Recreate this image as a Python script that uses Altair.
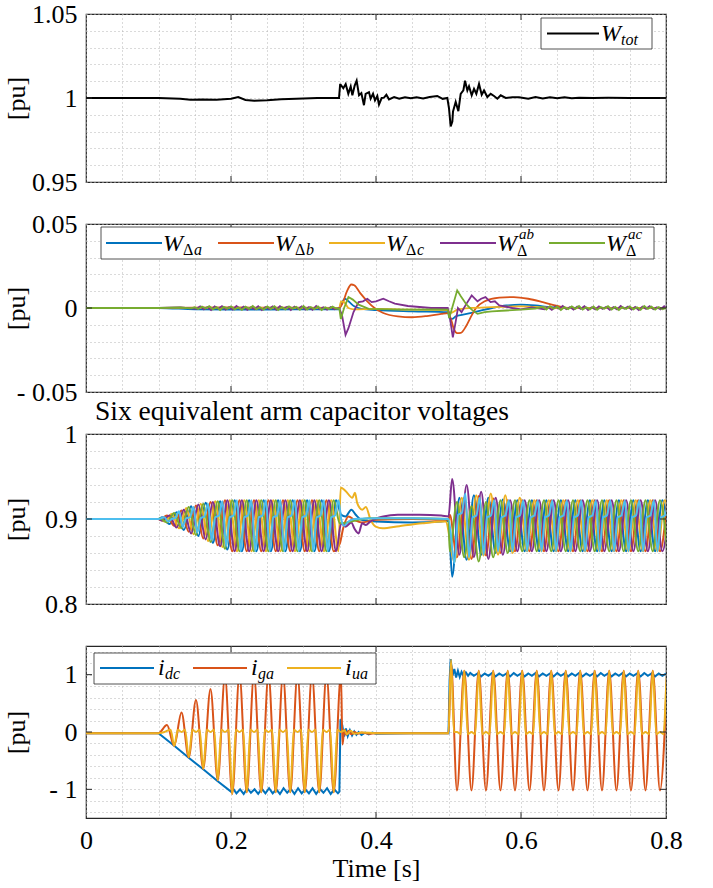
import altair as alt
import numpy as np
import pandas as pd

# ---------------- data ----------------
x_major = [0, 0.2, 0.4, 0.6, 0.8]
x_grid = [round(0.05 * i, 2) for i in range(17)]

# Panel 1: W_tot
wtot_t = [0.0, 0.10, 0.13, 0.144, 0.16, 0.18, 0.20, 0.21, 0.22, 0.232, 0.25, 0.269, 0.29, 0.319, 0.349,
          0.3505, 0.3513, 0.3549, 0.3582, 0.3618, 0.3651, 0.3674, 0.3706, 0.3733, 0.3766, 0.3798, 0.3834,
          0.3857, 0.3903, 0.3926, 0.3959, 0.3986, 0.4018, 0.4041, 0.4078, 0.4110, 0.4143, 0.4179,
          0.425, 0.432, 0.44, 0.448, 0.456, 0.465, 0.474, 0.4845, 0.492, 0.4984,
          0.5007, 0.503, 0.5053, 0.5062, 0.5099, 0.5136, 0.5168, 0.5205, 0.5228, 0.526, 0.5283, 0.532,
          0.5352, 0.5384, 0.5421, 0.5458, 0.549, 0.5536, 0.5582, 0.5628, 0.5674, 0.572, 0.5789, 0.5881, 0.5972,
          0.61, 0.62, 0.63, 0.64, 0.65, 0.66, 0.67, 0.68, 0.70, 0.72, 0.75, 0.8]
wtot_v = [1.0, 1.0, 0.9995, 0.999, 0.9991, 0.9989, 0.9996, 1.0006, 0.9988, 0.9983, 0.9986, 0.9992, 0.9996, 1.0, 1.0,
          1.0079, 1.0079, 1.0058, 1.0083, 1.0025, 1.0068, 1.0016, 1.0074, 1.0103, 1.0016, 1.0029, 0.9957,
          1.0025, 1.0035, 0.9996, 1.0025, 0.9986, 1.0012, 0.9961, 1.0, 1.0002, 1.0019, 0.9992,
          1.0006, 0.9996, 1.0005, 0.9998, 1.0004, 0.9997, 1.0006, 1.0012, 0.9995, 1.0,
          0.9938, 0.9831, 0.986, 0.9919, 0.9977, 0.9922, 1.0025, 1.0045, 1.0103, 1.0045, 1.007, 1.0016,
          1.0054, 1.0025, 1.0083, 1.0019, 1.0045, 1.0006, 1.0025, 1.0012, 0.9996, 1.0016, 1.0, 1.0004, 1.0004,
          0.9996, 1.0006, 0.9997, 1.0005, 0.9998, 1.0004, 0.9999, 1.0002, 1.0, 1.0001, 1.0, 1.0]

# Panel 2: energy differences
wa_t = [0, 0.1, 0.15, 0.2, 0.3, 0.349, 0.352, 0.357, 0.362, 0.37, 0.38, 0.40, 0.45, 0.499, 0.502, 0.505,
        0.51, 0.52, 0.54, 0.56, 0.58, 0.60, 0.62, 0.64, 0.66, 0.7, 0.8]
wa_v = [0, 0, -0.0008, -0.001, -0.0008, -0.0008, 0.002, 0.0055, 0.004, 0.001, -0.0005, -0.0012, -0.002,
        -0.0025, -0.0065, -0.0065, -0.005, -0.004, -0.002, 0.0, 0.0015, 0.002, 0.0015, 0.0005, 0.0, 0.0, 0.0]
wb_t = [0, 0.1, 0.2, 0.349, 0.354, 0.36, 0.366, 0.37, 0.378, 0.388, 0.398, 0.41, 0.43, 0.45, 0.47, 0.49,
        0.499, 0.503, 0.507, 0.512, 0.517, 0.524, 0.53, 0.538, 0.55, 0.57, 0.59, 0.61, 0.63, 0.65, 0.665, 0.7, 0.8]
wb_v = [0, 0, 0.0003, 0, 0.003, 0.01, 0.014, 0.0135, 0.009, 0.004, 0.0, -0.003, -0.005, -0.0055, -0.0048,
        -0.0035, -0.003, -0.006, -0.012, -0.015, -0.0148, -0.011, -0.006, 0.0, 0.004, 0.0062, 0.0065, 0.0055,
        0.0035, 0.0012, 0.0, 0.0, 0.0]
wc_t = [0, 0.1, 0.349, 0.352, 0.356, 0.362, 0.37, 0.4, 0.45, 0.499, 0.502, 0.506, 0.512, 0.53, 0.56, 0.6, 0.65, 0.8]
wc_v = [0, 0, 0, 0.004, 0.0035, 0.0, -0.0008, -0.0005, -0.001, -0.0012, -0.003, -0.0025, -0.001, 0.0, 0.0005,
        0.001, 0.0, 0.0]
wab_t = [0, 0.1, 0.13]
wab_v = [0, 0, 0.0004]
wab_noise1 = [-0.0005, 0.0010, -0.0008, 0.0006, -0.0012, 0.0009, -0.0004, 0.0011, -0.0009, 0.0005, -0.0010,
              0.0012, -0.0006, 0.0008, -0.0011, 0.0004, -0.0007, 0.0010, -0.0012, 0.0006, -0.0005, 0.0009,
              -0.0010, 0.0011, -0.0004, 0.0007, -0.0012, 0.0008, -0.0006, 0.0010, -0.0009, 0.0005, -0.0011,
              0.0012, -0.0007, 0.0004, -0.0010, 0.0006, -0.0008]
wab_mid_t = [0.349, 0.353, 0.358, 0.362, 0.369, 0.376, 0.382, 0.388, 0.394, 0.40, 0.41, 0.418, 0.426, 0.444,
             0.476, 0.499, 0.502, 0.506, 0.51, 0.513, 0.518, 0.524, 0.532, 0.54, 0.545, 0.551, 0.558, 0.564,
             0.57, 0.588, 0.60, 0.615]
wab_mid_v = [0.0, -0.004, -0.016, -0.012, -0.0024, 0.0035, 0.004, 0.0055, 0.0035, 0.004, 0.0055, 0.004,
             0.0026, 0.0012, 0.0, 0.0, -0.006, -0.0175, -0.008, 0.0, -0.0025, 0.002, 0.0075, 0.004, 0.0055,
             0.0065, 0.0035, 0.004, 0.0016, 0.0, -0.0008, 0.0004]
wab_noise2 = [-0.0008, 0.0005, -0.0011, 0.0009, -0.0004, 0.0012, -0.0007, 0.0006, -0.0010, 0.0008, -0.0005,
              0.0011, -0.0012, 0.0004, -0.0009, 0.0010, -0.0006, 0.0007, -0.0011, 0.0005, -0.0008, 0.0012,
              -0.0004, 0.0009, -0.0010, 0.0006, -0.0012, 0.0008, -0.0005, 0.0011, -0.0007, 0.0004, -0.0009, 0.0010]
wac_t = [0, 0.1, 0.13, 0.145]
wac_v = [0, 0, 0.0003, -0.0002]
wac_noise1 = [0.0004, -0.0006, 0.0009, -0.0003, 0.0011, -0.0008, 0.0005, -0.0012, 0.0007, -0.0004, 0.0010,
              -0.0009, 0.0003, -0.0011, 0.0008, -0.0005, 0.0012, -0.0007, 0.0004, -0.0010, 0.0009, -0.0006,
              0.0011, -0.0012, 0.0005, -0.0008, 0.0010, -0.0004, 0.0007, -0.0011, 0.0012, -0.0009, 0.0006,
              -0.0007, 0.0009, -0.0012, 0.0004, -0.0006, 0.0008, -0.0003]
wac_mid_t = [0.3495, 0.3515, 0.356, 0.362, 0.368, 0.376, 0.39, 0.42, 0.45, 0.48, 0.499, 0.501, 0.505, 0.512,
             0.517, 0.525, 0.532, 0.54, 0.55, 0.56, 0.58, 0.60, 0.62]
wac_mid_v = [-0.0005, -0.0066, 0.0, 0.0065, 0.005, 0.002, -0.0005, -0.0008, -0.001, -0.0009, -0.001, -0.006,
             0.0, 0.0105, 0.007, 0.002, -0.001, -0.0035, -0.0025, -0.002, -0.0015, -0.001, -0.0003]
wac_noise2 = [0.0006, -0.0009, 0.0011, -0.0004, 0.0008, -0.0012, 0.0005, -0.0007, 0.0010, -0.0005, 0.0012,
              -0.0010, 0.0004, -0.0008, 0.0009, -0.0011, 0.0006, -0.0004, 0.0011, -0.0009, 0.0007, -0.0012,
              0.0005, -0.0006, 0.0010, -0.0008, 0.0004, -0.0011, 0.0012, -0.0005, 0.0008, -0.0010, 0.0006, -0.0007]

# Panel 3: six arm capacitor voltages (successive extremes, half-period apart)
arm1_a = [0.902, 0.894, 0.908, 0.887, 0.915, 0.880, 0.919, 0.872, 0.921, 0.864, 0.922, 0.862, 0.922, 0.862,
          0.922, 0.862, 0.922, 0.862, 0.922, 0.862, 0.922, 0.862, 0.922, 0.862, 0.922]
arm2_a = [0.899, 0.904, 0.892, 0.910, 0.885, 0.916, 0.877, 0.920, 0.869, 0.922, 0.862, 0.922, 0.862, 0.922,
          0.862, 0.922, 0.862, 0.922, 0.862, 0.922, 0.862, 0.922, 0.862, 0.922, 0.862]
arm3_a = [0.897, 0.906, 0.889, 0.913, 0.882, 0.918, 0.874, 0.921, 0.867, 0.922, 0.862, 0.922, 0.862, 0.922,
          0.862, 0.922, 0.862, 0.922, 0.862, 0.922, 0.862, 0.922, 0.862, 0.922, 0.862]
arm4_a = [0.898, 0.904, 0.890, 0.911, 0.883, 0.917, 0.876, 0.920, 0.868, 0.922, 0.862, 0.922, 0.862, 0.922,
          0.862, 0.922, 0.862, 0.922, 0.862, 0.922, 0.862, 0.922, 0.862, 0.922, 0.862]
arm5_a = [0.901, 0.896, 0.907, 0.889, 0.914, 0.881, 0.918, 0.873, 0.921, 0.865, 0.922, 0.862, 0.922, 0.862,
          0.922, 0.862, 0.922, 0.862, 0.922, 0.862, 0.922, 0.862, 0.922, 0.862, 0.922]
arm6_a = [0.902, 0.897, 0.900, 0.901, 0.909, 0.891, 0.901, 0.902, 0.914, 0.884, 0.901, 0.903, 0.918, 0.876,
          0.902, 0.904, 0.921, 0.868, 0.902, 0.904, 0.922, 0.862, 0.902, 0.904, 0.922, 0.862, 0.902, 0.904,
          0.922, 0.862, 0.902, 0.904, 0.922, 0.862, 0.902, 0.904, 0.922, 0.862, 0.902, 0.904, 0.922, 0.862,
          0.902, 0.904, 0.922, 0.862, 0.902, 0.904, 0.922]
arm1_tr_t = [0.352, 0.358, 0.366, 0.372, 0.38, 0.40, 0.45, 0.49, 0.5]
arm1_tr_v = [0.905, 0.903, 0.911, 0.905, 0.899, 0.897, 0.896, 0.897, 0.898]
arm2_tr_t = [0.350, 0.355, 0.362, 0.37, 0.38, 0.40, 0.45, 0.5]
arm2_tr_v = [0.871, 0.89, 0.903, 0.899, 0.896, 0.899, 0.9, 0.899]
arm3_tr_t = [0.3513, 0.358, 0.3674, 0.371, 0.374, 0.381, 0.386, 0.3926, 0.3996, 0.409, 0.432, 0.464, 0.496]
arm3_tr_v = [0.937, 0.933, 0.925, 0.931, 0.919, 0.911, 0.914, 0.899, 0.891, 0.889, 0.8916, 0.895, 0.897]
arm4_tr_t = [0.352, 0.358, 0.366, 0.37, 0.376, 0.381, 0.386, 0.392, 0.41, 0.43, 0.46, 0.49, 0.5]
arm4_tr_v = [0.895, 0.891, 0.896, 0.889, 0.883, 0.895, 0.893, 0.897, 0.903, 0.905, 0.905, 0.904, 0.903]
arm5_tr_t = [0.35, 0.36, 0.37, 0.39, 0.45, 0.5]
arm5_tr_v = [0.895, 0.896, 0.898, 0.901, 0.901, 0.9]
arm6_tr_t = [0.352, 0.356, 0.362, 0.37, 0.40, 0.45, 0.5]
arm6_tr_v = [0.9, 0.892, 0.897, 0.9, 0.901, 0.901, 0.9]
arm1_c = [0.832, 0.925, 0.852, 0.928, 0.858, 0.925, 0.860, 0.923, 0.862, 0.922, 0.862, 0.922, 0.862, 0.922,
          0.862, 0.922, 0.862, 0.922, 0.862, 0.922, 0.862, 0.922, 0.862, 0.922, 0.862, 0.922, 0.862, 0.922,
          0.862, 0.922, 0.862]
arm2_c = [0.905, 0.855, 0.925, 0.853, 0.927, 0.857, 0.924, 0.860, 0.922, 0.862, 0.922, 0.862, 0.922, 0.862,
          0.922, 0.862, 0.922, 0.862, 0.922, 0.862, 0.922, 0.862, 0.922, 0.862, 0.922, 0.862, 0.922, 0.862,
          0.922, 0.862, 0.922]
arm3_c = [0.850, 0.925, 0.852, 0.928, 0.857, 0.930, 0.858, 0.928, 0.860, 0.925, 0.862, 0.922, 0.862, 0.922,
          0.862, 0.922, 0.862, 0.922, 0.862, 0.922, 0.862, 0.922, 0.862, 0.922, 0.862, 0.922, 0.862, 0.922,
          0.862, 0.922, 0.862]
arm4_c = [0.947, 0.858, 0.940, 0.855, 0.932, 0.853, 0.925, 0.858, 0.922, 0.862, 0.922, 0.862, 0.922, 0.862,
          0.922, 0.862, 0.922, 0.862, 0.922, 0.862, 0.922, 0.862, 0.922, 0.862, 0.922, 0.862, 0.922, 0.862,
          0.922, 0.862, 0.922]
arm5_c = [0.862, 0.920, 0.855, 0.915, 0.850, 0.920, 0.855, 0.922, 0.860, 0.922, 0.862, 0.922, 0.862, 0.922,
          0.862, 0.922, 0.862, 0.922, 0.862, 0.922, 0.862, 0.922, 0.862, 0.922, 0.862, 0.922, 0.862, 0.922,
          0.862, 0.922, 0.862]
arm6_c = [0.848, 0.905, 0.907, 0.930, 0.855, 0.902, 0.904, 0.925, 0.858, 0.902, 0.904, 0.922,
          0.862, 0.902, 0.904, 0.922, 0.862, 0.902, 0.904, 0.922, 0.862, 0.902, 0.904, 0.922,
          0.862, 0.902, 0.904, 0.922, 0.862, 0.902, 0.904, 0.922, 0.862, 0.902, 0.904, 0.922,
          0.862, 0.902, 0.904, 0.922, 0.862, 0.902, 0.904, 0.922, 0.862, 0.902, 0.904, 0.922,
          0.862, 0.902, 0.904, 0.922, 0.862, 0.902, 0.904, 0.922, 0.862, 0.902, 0.904, 0.922]

# Panel 4: currents
idc_t = [0.0, 0.1, 0.1217, 0.1417, 0.1617, 0.1817, 0.2]
idc_v = [-0.02, -0.02, -0.24, -0.45, -0.65, -0.86, -1.04]
idc_band1 = [-0.98, -1.07, -1.00, -1.08, -0.98, -1.06, -1.00, -1.08, -0.99, -1.07, -0.98, -1.07, -1.00, -1.08,
             -0.98, -1.06, -0.99, -1.08, -0.98, -1.07, -1.00, -1.07, -0.98, -1.08, -0.99, -1.06, -0.98, -1.08,
             -1.00, -1.07]
idc_tr_t = [0.3495, 0.351, 0.3535, 0.356, 0.3585, 0.361, 0.364, 0.367, 0.370, 0.373, 0.376, 0.38, 0.385, 0.39,
            0.395, 0.40, 0.45, 0.5, 0.5015, 0.503, 0.5055, 0.508, 0.5105, 0.513, 0.5155, 0.518, 0.521, 0.524,
            0.527, 0.53]
idc_tr_v = [-1.04, 0.22, 0.12, -0.08, 0.06, -0.07, 0.03, -0.06, 0.01, -0.05, 0.0, -0.05, -0.01, -0.04, -0.01,
            -0.03, -0.02, -0.02, 0.9, 1.27, 0.98, 1.10, 0.95, 1.07, 0.96, 1.05, 0.97, 1.04, 0.98, 1.03]
idc_band2 = [0.98, 1.02, 0.97, 1.02, 0.98, 1.03, 0.97, 1.02, 0.98, 1.02, 0.97, 1.03, 0.98, 1.02, 0.97, 1.02,
             0.98, 1.03, 0.97, 1.02, 0.98, 1.02, 0.97, 1.03, 0.98, 1.02, 0.97, 1.02, 0.98, 1.03, 0.97, 1.02,
             0.98, 1.02, 0.97, 1.03, 0.98, 1.02, 0.97, 1.02, 0.98, 1.03, 0.97, 1.02, 0.98, 1.02, 0.97, 1.03,
             0.98, 1.02, 0.97, 1.02, 0.98, 1.02]
iga_t = [0.0, 0.1]
iga_v = [-0.02, -0.02]
iga_a = [0.12, -0.24, 0.34, -0.44, 0.56, -0.64, 0.75, -0.84, 0.97, -1.08, 1.0, -1.05, 1.0, -1.05, 1.0, -1.05,
         1.0, -1.05, 1.0, -1.05, 1.0, -1.05, 1.0, -1.05, 1.0]
iga_tr_t = [0.3537, 0.3565, 0.359, 0.362, 0.366, 0.37, 0.375, 0.38, 0.39, 0.40, 0.45, 0.5, 0.5035]
iga_tr_v = [-0.22, 0.04, -0.05, 0.02, -0.04, 0.0, -0.03, -0.01, -0.03, -0.02, -0.02, -0.02, 1.2]
iga_c = [-1.02, 1.07, -1.02, 1.07, -1.02, 1.07, -1.02, 1.07, -1.02, 1.07, -1.02, 1.07, -1.02, 1.07, -1.02,
         1.07, -1.02, 1.07, -1.02, 1.07, -1.02, 1.07, -1.02, 1.07, -1.02, 1.07, -1.02, 1.07, -1.02, 1.07]
iua_t = [0.0, 0.1, 0.108]
iua_v = [-0.02, -0.02, 0.0]
iua_a = [0.04, -0.24, 0.04, 0.0, 0.04, -0.44, 0.04, 0.0, 0.04, -0.64, 0.04, 0.0, 0.04, -0.84, 0.04, 0.0,
         0.04, -1.08, 0.04, 0.0, 0.04, -1.05, 0.04, 0.0, 0.04, -1.05, 0.04, 0.0, 0.04, -1.05, 0.04, 0.0,
         0.04, -1.05, 0.04, 0.0, 0.04, -1.05, 0.04, 0.0, 0.04, -1.05, 0.04, 0.0, 0.04, -1.05, 0.04, 0.0]
iua_tr_t = [0.3567, 0.36, 0.365, 0.37, 0.38, 0.40, 0.5, 0.5035, 0.5075]
iua_tr_v = [0.03, -0.04, 0.02, -0.03, -0.01, -0.02, -0.02, 1.26, 0.0]
iua_c = [0.0, -0.04, 1.07, -0.04, 0.0, -0.04, 1.07, -0.04, 0.0, -0.04, 1.07, -0.04, 0.0, -0.04, 1.07, -0.04,
         0.0, -0.04, 1.07, -0.04, 0.0, -0.04, 1.07, -0.04, 0.0, -0.04, 1.07, -0.04, 0.0, -0.04, 1.07, -0.04,
         0.0, -0.04, 1.07, -0.04, 0.0, -0.04, 1.07, -0.04, 0.0, -0.04, 1.07, -0.04, 0.0, -0.04, 1.07, -0.04,
         0.0, -0.04, 1.07, -0.04, 0.0, -0.04, 1.07, -0.04, 0.0, -0.04, 1.07, -0.04]


# ---------------- helpers ----------------
def pts(ts, vs):
    return pd.DataFrame({"t": ts, "v": vs})


def grid(t0, dt, vals):
    return pd.DataFrame({"t": np.round(t0 + dt * np.arange(len(vals)), 5), "v": vals})


def series(*parts):
    return pd.concat(parts, ignore_index=True).sort_values("t").reset_index(drop=True)


SERIF = "Liberation Serif"
BLUE, ORANGE, YELLOW = "#0072BD", "#D95319", "#EDB120"
PURPLE, GREEN, CYAN = "#7E2F8E", "#77AC30", "#4DBEEE"
GRIDC = "#b5b5b5"
W = 580
FS = 26
ONE = pd.DataFrame({"k": [0]})


def txt(s, x, y, size, italic=True):
    return alt.Chart(ONE).mark_text(
        text=s, font=SERIF, fontSize=size, fontStyle="italic" if italic else "normal",
        align="left", baseline="alphabetic", color="black"
    ).encode(x=alt.value(x), y=alt.value(y))


def sample(x1, x2, y, color):
    return alt.Chart(ONE).mark_rule(color=color, strokeWidth=2).encode(
        x=alt.value(x1), x2=alt.value(x2), y=alt.value(y))


def box(x1, x2, y1, y2):
    return alt.Chart(ONE).mark_rect(fill="white", stroke="#262626", strokeWidth=0.8).encode(
        x=alt.value(x1), x2=alt.value(x2), y=alt.value(y1), y2=alt.value(y2))


def panel(h, ydom, ygrid, ymaj, ytick_inner, lines, overlay, bottom=False):
    xs = alt.Scale(domain=[0, 0.8], nice=False, zero=False)
    ys = alt.Scale(domain=ydom, nice=False, zero=False)
    if bottom:
        xaxis = alt.Axis(values=x_grid, grid=True, gridDash=[1, 3], gridColor=GRIDC, ticks=False, domain=False,
                         labelExpr=f"indexof({x_major}, datum.value) >= 0 ? toString(datum.value) : ''",
                         labelFont=SERIF, labelFontSize=FS, labelColor="black", labelPadding=9,
                         labelFlush=False, labelOverlap=False,
                         title="Time [s]", titleFont=SERIF, titleFontSize=FS, titleFontWeight="normal",
                         titleColor="black", titlePadding=2)
    else:
        xaxis = alt.Axis(values=x_grid, grid=True, gridDash=[1, 3], gridColor=GRIDC, ticks=False, domain=False,
                         labels=False, title=None)
    yaxis = alt.Axis(values=ygrid, grid=True, gridDash=[1, 3], gridColor=GRIDC, ticks=False, domain=False,
                     labelExpr=(f"indexof({ymaj}, datum.value) < 0 ? '' : (datum.value < 0 ? "
                                f"'- ' + toString(-datum.value) : toString(datum.value))"),
                     labelFont=SERIF, labelFontSize=FS, labelColor="black", labelPadding=9,
                     labelOverlap=False,
                     title="[pu]", titleFont=SERIF, titleFontSize=FS, titleFontWeight="normal",
                     titleColor="black", titleX=-57, titleY=h / 2)
    X = alt.X("t:Q", scale=xs, axis=xaxis)
    Y = alt.Y("v:Q", scale=ys, axis=yaxis)
    layers = []
    for df, color, sw, interp in lines:
        layers.append(alt.Chart(df).mark_line(color=color, strokeWidth=sw, interpolate=interp, clip=True)
                      .encode(x=X, y=Y))
    xt = pd.DataFrame({"t": [0.2, 0.4, 0.6]})
    layers.append(alt.Chart(xt).mark_rule(color="#262626", strokeWidth=1)
                  .encode(x=X, y=alt.value(h), y2=alt.value(h - 6)))
    layers.append(alt.Chart(xt).mark_rule(color="#262626", strokeWidth=1)
                  .encode(x=X, y=alt.value(0), y2=alt.value(6)))
    yt = pd.DataFrame({"v": ytick_inner})
    layers.append(alt.Chart(yt).mark_rule(color="#262626", strokeWidth=1)
                  .encode(y=Y, x=alt.value(0), x2=alt.value(6)))
    layers.append(alt.Chart(yt).mark_rule(color="#262626", strokeWidth=1)
                  .encode(y=Y, x=alt.value(W), x2=alt.value(W - 6)))
    layers.extend(overlay)
    return alt.layer(*layers).properties(width=W, height=h)


# ---------------- panel 1 ----------------
p1 = panel(
    168, [0.95, 1.05], [round(0.95 + 0.01 * i, 2) for i in range(11)], [0.95, 1.0, 1.05], [1.0],
    [(pts(wtot_t, wtot_v), "black", 2.0, "linear")],
    [box(455, 566, 4, 35), sample(461, 513, 19.5, "black"),
     txt("W", 515, 27, 24), txt("tot", 535, 31, 16)],
)

# ---------------- panel 2 ----------------
s_wab = series(pts(wab_t, wab_v), grid(0.1525, 0.005, wab_noise1), pts(wab_mid_t, wab_mid_v),
               grid(0.6325, 0.005, wab_noise2), pts([0.8], [0.0]))
s_wac = series(pts(wac_t, wac_v), grid(0.15, 0.005, wac_noise1), pts(wac_mid_t, wac_mid_v),
               grid(0.63, 0.005, wac_noise2), pts([0.8], [0.0]))
leg2 = [box(15, 568, 3, 35)]
for x0, col, sub, sup in [(20, BLUE, "a", None), (132, ORANGE, "b", None), (243, YELLOW, "c", None),
                          (354, PURPLE, None, "ab"), (463, GREEN, None, "ac")]:
    leg2.append(sample(x0, x0 + 56, 19, col))
    wx = x0 + 57
    leg2.append(txt("W", wx, 27, 24))
    if sub:
        leg2.append(txt("Δ", wx + 20, 31, 16, italic=False))
        leg2.append(txt(sub, wx + 31, 31, 16))
    else:
        leg2.append(txt("Δ", wx + 20, 32, 16, italic=False))
        leg2.append(txt(sup, wx + 22, 15, 15))
p2 = panel(
    168, [-0.05, 0.05], [round(-0.05 + 0.01 * i, 2) for i in range(11)], [-0.05, 0.0, 0.05], [0.0],
    [(pts(wa_t, wa_v), BLUE, 1.8, "monotone"), (pts(wb_t, wb_v), ORANGE, 1.8, "monotone"),
     (pts(wc_t, wc_v), YELLOW, 1.8, "monotone"), (s_wab, PURPLE, 1.8, "linear"),
     (s_wac, GREEN, 1.8, "linear")],
    leg2,
)

# ---------------- panel 3 ----------------
start = pts([0.0, 0.1], [0.9, 0.9])
arms = [
    (series(start, grid(0.105, 0.01, arm1_a), pts(arm1_tr_t, arm1_tr_v), grid(0.505, 0.01, arm1_c)), BLUE),
    (series(start, grid(0.1017, 0.01, arm2_a), pts(arm2_tr_t, arm2_tr_v), grid(0.5017, 0.01, arm2_c)), ORANGE),
    (series(start, grid(0.1083, 0.01, arm3_a), pts(arm3_tr_t, arm3_tr_v), grid(0.5083, 0.01, arm3_c)), YELLOW),
    (series(start, grid(0.105, 0.01, arm4_a), pts(arm4_tr_t, arm4_tr_v), grid(0.505, 0.01, arm4_c)), PURPLE),
    (series(start, grid(0.1017, 0.01, arm5_a), pts(arm5_tr_t, arm5_tr_v), grid(0.5017, 0.01, arm5_c)), GREEN),
    (series(start, grid(0.1083, 0.005, arm6_a), pts(arm6_tr_t, arm6_tr_v), grid(0.5083, 0.005, arm6_c)), CYAN),
]
p3 = panel(
    170, [0.8, 1.0], [round(0.8 + 0.02 * i, 2) for i in range(11)], [0.8, 0.9, 1.0], [0.9],
    [(df, c, 2.0, "monotone") for df, c in arms],
    [txt("Six equivalent arm capacitor voltages", 9, -14, 27.5, italic=False)],
)

# ---------------- panel 4 ----------------
s_idc = series(pts(idc_t, idc_v), grid(0.2025, 0.005, idc_band1), pts(idc_tr_t, idc_tr_v),
               grid(0.535, 0.005, idc_band2))
s_iga = series(pts(iga_t, iga_v), grid(0.1117, 0.01, iga_a), pts(iga_tr_t, iga_tr_v), grid(0.5117, 0.01, iga_c))
s_iua = series(pts(iua_t, iua_v), grid(0.1167, 0.005, iua_a), pts(iua_tr_t, iua_tr_v),
               grid(0.5117, 0.005, iua_c))
leg4 = [box(8, 290, 7, 38)]
for x0, col, sub in [(14, BLUE, "dc"), (107, ORANGE, "ga"), (201, YELLOW, "ua")]:
    leg4.append(sample(x0, x0 + 54, 22, col))
    leg4.append(txt("i", x0 + 58, 29, 24))
    leg4.append(txt(sub, x0 + 65, 33, 16))
p4 = panel(
    172, [-1.5, 1.5], [round(-1.4 + 0.2 * i, 1) + 0.0 for i in range(15)], [-1.0, 0.0, 1.0], [-1.0, 0.0, 1.0],
    [(s_idc, BLUE, 2.0, "linear"), (s_iga, ORANGE, 2.0, "monotone"), (s_iua, YELLOW, 2.0, "monotone")],
    leg4, bottom=True,
)

chart = alt.vconcat(p1, p2, p3, p4, spacing=42, bounds="flush").properties(
    padding={"left": 2, "top": 0, "right": 5, "bottom": 0},
    background="white",
).configure_view(stroke="#262626", strokeWidth=1.2)

chart.save("out.html", embed_options={"renderer": "svg", "actions": False})
